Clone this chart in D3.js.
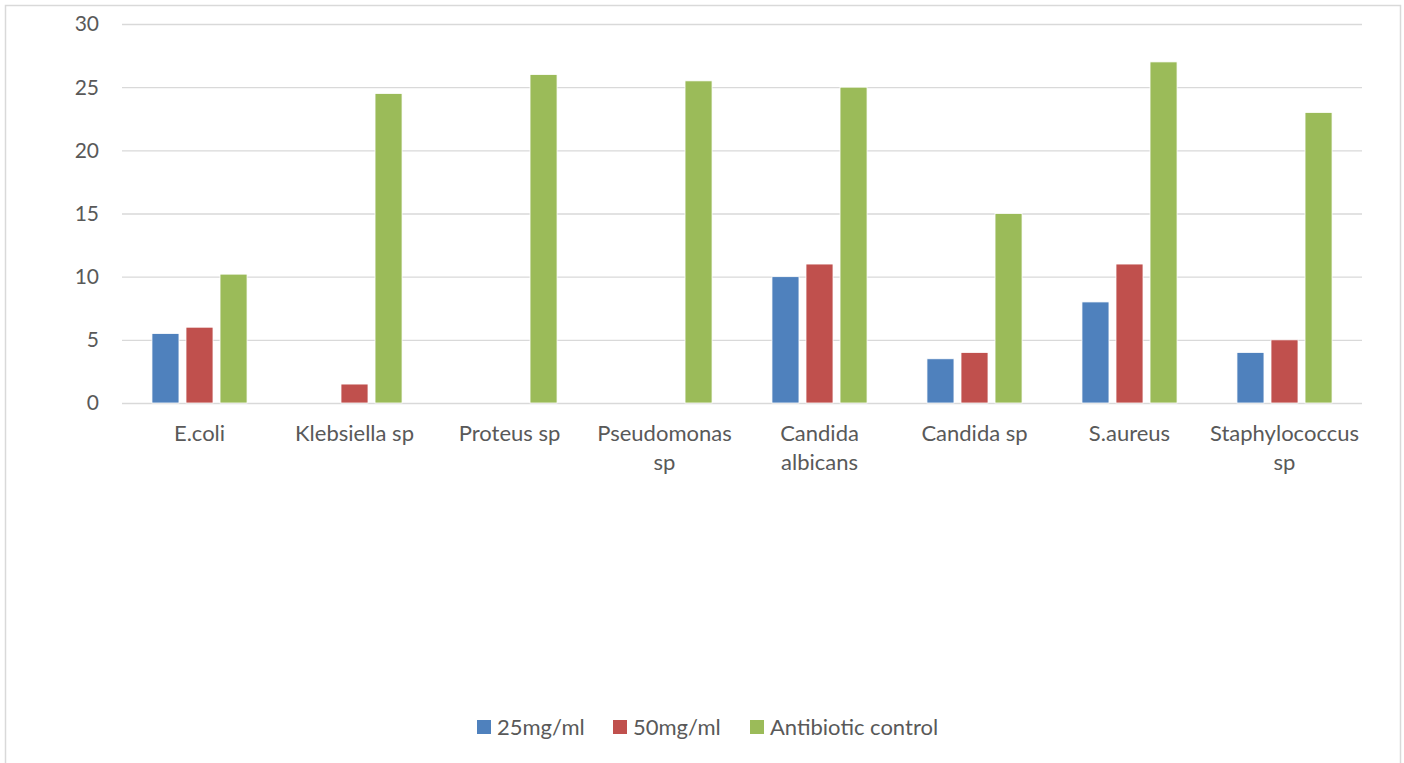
<!DOCTYPE html>
<html>
<head>
<meta charset="utf-8">
<script src="https://cdn.jsdelivr.net/npm/d3@7"></script>
<style>
  body { margin: 0; background: #fff; }
  svg text { font-family: Lato, "Open Sans", sans-serif; fill: #595959; }
</style>
</head>
<body>
<svg class="chart" width="1404" height="763"></svg>
<script>
// data
const categories = [["E.coli"], ["Klebsiella sp"], ["Proteus sp"], ["Pseudomonas", "sp"],
  ["Candida", "albicans"], ["Candida sp"], ["S.aureus"], ["Staphylococcus", "sp"]]
const seriesNames = ["25mg/ml", "50mg/ml", "Antibiotic control"]
const conc25 = [5.5, 0, 0, 0, 10, 3.5, 8, 4]
const conc50 = [6, 1.5, 0, 0, 11, 4, 11, 5]
const antibiotic = [10.2, 24.5, 26, 25.5, 25, 15, 27, 23]
const yTicks = [0, 5, 10, 15, 20, 25, 30]
const colors = ["#4F81BD", "#C0504D", "#9BBB59"]

const seriesVals = [conc25, conc50, antibiotic]
const catKeys = categories.map(c => c.join(" "))

var svg = d3.select(".chart")
var margin = { top: 24, left: 122, right: 42, bottom: 360 }
var width = 1404 - margin.left - margin.right
var height = 403 - margin.top

// frame
svg.append("path")
  .attr("d", "M5.5,770 V5.5 H1400.5 V770")
  .attr("fill", "none")
  .attr("stroke", "#d9d9d9")
  .attr("stroke-width", 1.5)

var x0 = d3.scaleBand().domain(catKeys).range([0, width])
var x1 = d3.scaleBand().domain(seriesNames).range([0, x0.bandwidth()])
  .paddingInner(0.206).paddingOuter(0.88)
var y = d3.scaleLinear().domain([0, 30]).range([height, 0])

var g = svg.append("g").attr("transform", "translate(" + margin.left + "," + margin.top + ")")

// gridlines
g.selectAll(".grid").data(yTicks).enter().append("line")
  .attr("x1", 0).attr("x2", width)
  .attr("y1", d => y(d) + 0.5).attr("y2", d => y(d) + 0.5)
  .attr("stroke", "#d9d9d9").attr("stroke-width", 1.3)

// y labels
g.selectAll(".ylab").data(yTicks).enter().append("text")
  .attr("x", -23).attr("y", d => y(d))
  .attr("dy", "0.35em")
  .attr("text-anchor", "end")
  .style("font-size", "21px")
  .text(d => d)

// bars
var rows = []
catKeys.forEach((c, i) => {
  seriesNames.forEach((s, j) => {
    rows.push({ cat: c, s: s, v: seriesVals[j][i], color: colors[j] })
  })
})
g.selectAll(".bar").data(rows.filter(d => d.v > 0)).enter().append("rect")
  .attr("x", d => x0(d.cat) + x1(d.s))
  .attr("y", d => y(d.v))
  .attr("width", x1.bandwidth())
  .attr("height", d => height - y(d.v))
  .attr("fill", d => d.color)
  .attr("stroke", "#fff")
  .attr("stroke-width", 0.8)

// category labels
var cl = g.selectAll(".cat").data(categories).enter().append("text")
  .attr("transform", (d, i) => "translate(" + (x0(catKeys[i]) + x0.bandwidth() / 2) + "," + (height + 38) + ")")
  .attr("text-anchor", "middle")
  .style("font-size", "22px")
cl.selectAll("tspan").data(d => d).enter().append("tspan")
  .attr("x", 0).attr("dy", (d, i) => i == 0 ? 0 : 29)
  .text(d => d)

// legend
var legX = [477, 613, 750]
var leg = svg.selectAll(".leg").data(seriesNames).enter().append("g")
  .attr("transform", (d, i) => "translate(" + legX[i] + ",720)")
leg.append("rect").attr("width", 14).attr("height", 14)
  .attr("fill", (d, i) => colors[i])
leg.append("text").attr("x", 20).attr("y", 7).attr("dy", "0.35em")
  .style("font-size", "22px")
  .text(d => d)
</script>
</body>
</html>
